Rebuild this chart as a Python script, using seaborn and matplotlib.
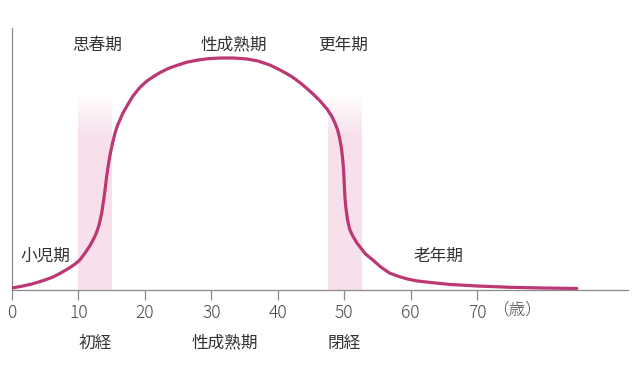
import numpy as np
import pandas as pd
import matplotlib
matplotlib.use("Agg")
import matplotlib.pyplot as plt
import matplotlib.transforms as mtransforms
from matplotlib.colors import to_rgb
import seaborn as sns

# ---- data ----
ages = [0, 1.5, 3, 4.5, 6, 7.2, 8.5, 9.5, 10.2, 11, 11.7, 12.2, 12.7, 13.1, 13.5,
        13.75, 14.0, 14.25, 14.5, 14.75, 15.1, 15.5, 15.9, 16.3, 16.7, 17.3, 18.2,
        19.3, 20.3, 21.3, 22.3, 23.5, 25, 26.3, 28, 29.5, 31.3, 33.3, 35.4, 37,
        38.8, 40.2, 41.3, 42.3, 43.3, 44.3, 45.3, 46.3, 47.4, 48.1, 48.6, 49.0,
        49.3, 49.55, 49.75, 49.9, 50.0, 50.1, 50.25, 50.5, 50.8, 51.2, 51.9, 52.5,
        53.2, 54.3, 55.5, 56.8, 58, 59.5, 61, 63, 66, 70, 75, 80, 85]
levels = [2, 3.8, 6, 9, 12.5, 16.5, 21.5, 26, 30, 37, 44, 50, 57, 65, 77,
          88, 100, 114, 125, 135, 146, 157, 165, 171, 177, 184, 194,
          203, 209, 213.5, 217.5, 221.5, 225, 227.8, 230, 231.3, 232, 232, 231, 229,
          225, 220.5, 216.5, 212.5, 207.5, 202, 196, 189.5, 181, 174, 167, 160,
          152, 143, 132, 120, 106, 93, 82, 70, 61, 55, 47, 42,
          36, 30, 23, 17, 14, 11, 9, 7.5, 5.5, 4, 2.7, 2, 1.5]

band_starts = [10, 47.5]
band_ends = [15, 52.5]
band_top = 196

xticks = [0, 10, 20, 30, 40, 50, 60, 70]
unit_label = "（歳）"
unit_label_x = 76.0

top_labels = ["思春期", "性成熟期", "更年期"]
top_label_x = [12.8, 33.4, 49.8]

inner_labels = ["小児期", "老年期"]
inner_label_x = [5.0, 64.1]
inner_label_y = [34, 34]

bottom_labels = ["初経", "性成熟期", "閉経"]
bottom_label_x = [12.5, 32.0, 50.0]

# ---- style ----
sns.set_theme(style="white")
plt.rcParams["font.family"] = ["Noto Sans CJK JP", "DejaVu Sans"]

line_color = "#bc3874"
shade_color = "#f7e0ec"
text_color = "#333333"
spine_color = "#8a8a8a"

fig = plt.figure(figsize=(6.4, 3.88), dpi=100)
ax = fig.add_axes([12 / 640, 98 / 388, 616 / 640, 262 / 388])

# shaded bands with a soft fade at the top
rgb = to_rgb(shade_color)
n = 200
alpha = np.ones(n)
fade = int(n * 0.22)
alpha[-fade:] = np.linspace(1, 0, fade)
grad = np.zeros((n, 2, 4))
grad[..., 0], grad[..., 1], grad[..., 2] = rgb
grad[..., 3] = alpha[:, None]
for s, e in zip(band_starts, band_ends):
    ax.imshow(grad, extent=(s, e, 0, band_top), origin="lower",
              aspect="auto", zorder=1, interpolation="bilinear")

df = pd.DataFrame({"age": ages, "level": levels})
sns.lineplot(data=df, x="age", y="level", ax=ax, color=line_color,
             linewidth=2.3, zorder=3, sort=False)
for ln in ax.get_lines():
    ln.set_solid_joinstyle("round")
    ln.set_solid_capstyle("round")

ax.set_xlim(0, 92.7)
ax.set_ylim(0, 262)
ax.set_xlabel("")
ax.set_ylabel("")
ax.set_yticks([])
ax.set_xticks(xticks)
ax.set_xticklabels([str(t) for t in xticks])
ax.tick_params(axis="x", direction="out", length=7, width=0.9, color=spine_color,
               labelsize=12.5, labelcolor="#4a4a4a", pad=3, bottom=True)
for lab in ax.get_xticklabels():
    lab.set_fontweight("light")

for side in ["top", "right"]:
    ax.spines[side].set_visible(False)
for side in ["left", "bottom"]:
    ax.spines[side].set_color(spine_color)
    ax.spines[side].set_linewidth(0.9)

xt = ax.get_xaxis_transform()
ax.text(unit_label_x, -0.045, unit_label, transform=xt, ha="center", va="top",
        fontsize=12, color="#4a4a4a", fontweight="light")

ytop = mtransforms.blended_transform_factory(ax.transData, fig.transFigure)
for lab, x in zip(top_labels, top_label_x):
    ax.text(x, 1 - 45 / 388, lab, transform=ytop, ha="center", va="center",
            fontsize=12, color=text_color)
for lab, x, y in zip(inner_labels, inner_label_x, inner_label_y):
    ax.text(x, y, lab, ha="center", va="center", fontsize=12, color=text_color)
for lab, x in zip(bottom_labels, bottom_label_x):
    ax.text(x, 45 / 388, lab, transform=ytop, ha="center", va="center",
            fontsize=12, color=text_color)

fig.savefig("out.png", dpi=100)
